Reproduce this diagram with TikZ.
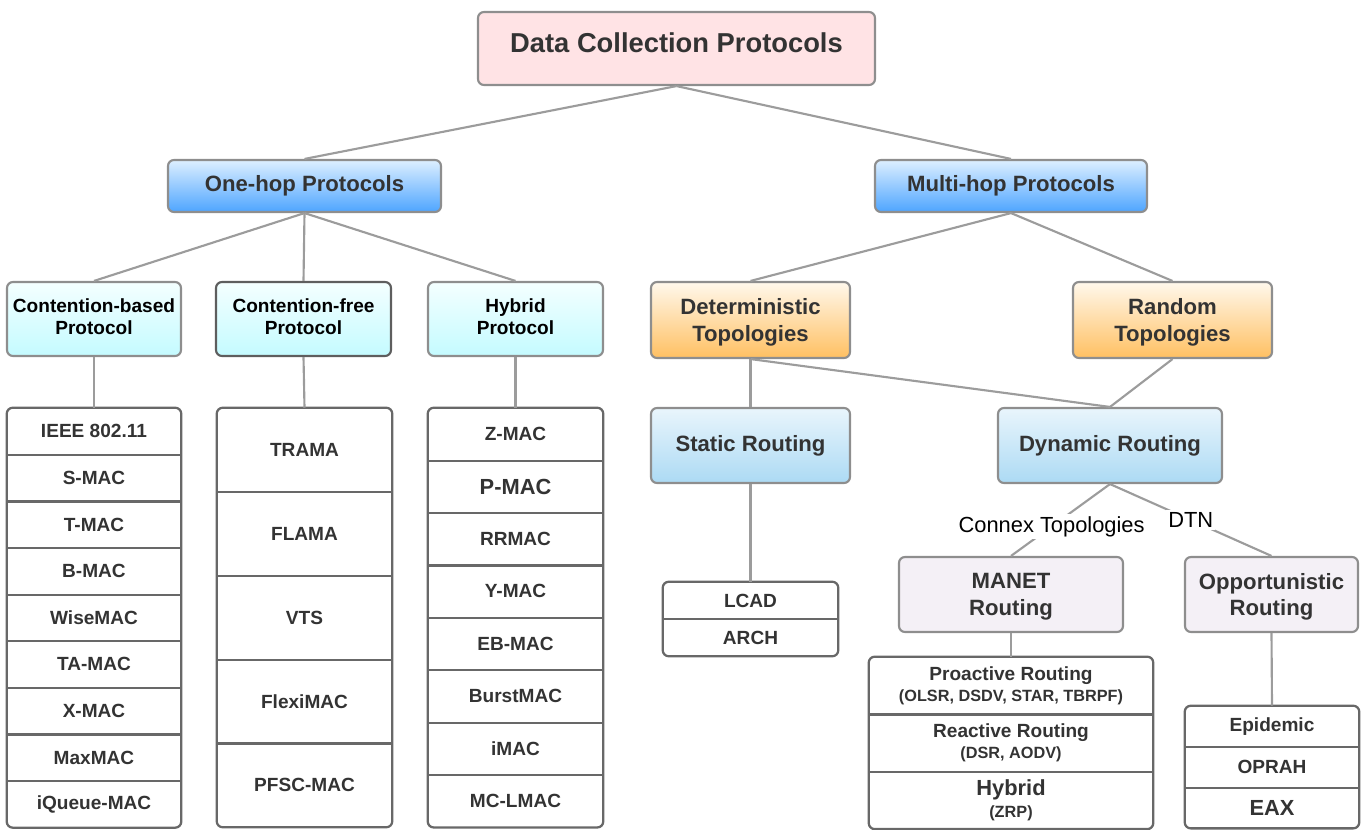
\documentclass[tikz,border=0pt]{standalone}
\usepackage{fontspec}
\setmainfont{Liberation Sans}
\definecolor{pinkfill}{HTML}{FFE3E5}
\definecolor{blueT}{HTML}{DDEFFF}
\definecolor{blueB}{HTML}{4EA5FF}
\definecolor{cyanT}{HTML}{F4FFFF}
\definecolor{cyanB}{HTML}{C4FBFF}
\definecolor{orangeT}{HTML}{FFF8EC}
\definecolor{orangeB}{HTML}{FFC062}
\definecolor{skyT}{HTML}{E9F5FC}
\definecolor{skyB}{HTML}{ACDAF4}
\definecolor{lavfill}{HTML}{F4F0F6}
\definecolor{bordergray}{HTML}{8E8E8E}
\definecolor{darkborder}{HTML}{5E5E5E}
\definecolor{listgray}{HTML}{686868}
\definecolor{linegray}{HTML}{9C9C9C}
\definecolor{textdark}{HTML}{333333}
\newcommand\fsTop{\fontsize{20.5}{24}\selectfont}
\newcommand\fsHdr{\fontsize{16.6}{20}\selectfont}
\newcommand\fsSub{\fontsize{14.3}{17.2}\selectfont}
\newcommand\fsBig{\fontsize{16.4}{19}\selectfont}
\newcommand\fsSmall{\fontsize{12.2}{15}\selectfont}
\tikzset{
  px/.style 2 args={minimum width=#1*0.75pt, minimum height=#2*0.75pt},
  base/.style={rounded corners=4.5pt, draw=bordergray, line width=1.6pt, inner sep=0pt,
    align=center, text=textdark, font=\bfseries\fsHdr},
  topbox/.style={base, fill=pinkfill, font=\bfseries\fsTop},
  bluebox/.style={base, top color=blueT, bottom color=blueB},
  cyanbox/.style={base, top color=cyanT, bottom color=cyanB, text=black, font=\bfseries\fsSub, text depth=3.6pt},
  orangebox/.style={base, top color=orangeT, bottom color=orangeB, text depth=-3.5pt},
  skybox/.style={base, top color=skyT, bottom color=skyB},
  lavbox/.style={base, fill=lavfill, text depth=-3.5pt},
  row/.style={inner sep=0pt, align=center, text=textdark, font=\bfseries\fsSub},
  listframe/.style={draw=listgray, line width=1.7pt, rounded corners=4.5pt},
  sep/.style={draw=listgray, line width=1.7pt},
  conn/.style={draw=linegray, line width=1.6pt},
  lab/.style={fill=white, inner sep=1.5pt, text=black, font=\fsBig},
}
\begin{document}
\begin{tikzpicture}[x=0.75pt, y=-0.75pt]
\useasboundingbox (0,0) rectangle (1368,829);

% ---------- main boxes ----------
\node[topbox, px={397}{73}, text height=14.7pt, text depth=8.2pt] (dc) at (676.5,48.5) {Data Collection Protocols};
\node[bluebox, px={273}{52}] (one) at (304.5,186) {One-hop Protocols};
\node[bluebox, px={272}{52}] (multi) at (1011,186) {Multi-hop Protocols};

\node[cyanbox, px={174}{74}] (cb) at (94,319) {Contention-based\\Protocol};
\node[cyanbox, px={175}{74}, draw=darkborder] (cf) at (303.5,319) {Contention-free\\Protocol};
\node[cyanbox, px={175}{74}] (hy) at (515.5,319) {Hybrid\\Protocol};

\node[orangebox, px={199}{76}] (det) at (750.5,320) {Deterministic\\Topologies};
\node[orangebox, px={199}{76}] (rand) at (1172.5,320) {Random\\Topologies};
\node[skybox, px={199}{75}] (static) at (750.5,445.5) {Static Routing};
\node[skybox, px={224}{75}] (dyn) at (1110,445.5) {Dynamic Routing};
\node[lavbox, px={224}{75}] (manet) at (1011,594.5) {MANET\\Routing};
\node[lavbox, px={173}{75}] (opp) at (1271.5,594.5) {Opportunistic\\Routing};

% ---------- lists ----------
\foreach \t [count=\i] in {IEEE 802.11, S-MAC, T-MAC, B-MAC, WiseMAC, TA-MAC, X-MAC, MaxMAC, iQueue-MAC}
  \node[row, px={174}{46.6}] (cb\i) at (94,{408+46.6*(\i-0.5)}) {\t};
\foreach \t [count=\i] in {TRAMA, FLAMA, VTS, FlexiMAC, PFSC-MAC}
  \node[row, px={175}{83.8}] (cf\i) at (304.5,{408+83.8*(\i-0.5)}) {\t};
\foreach \t [count=\i] in {Z-MAC, {\fsBig P-MAC}, RRMAC, Y-MAC, EB-MAC, BurstMAC, iMAC, MC-LMAC}
  \node[row, px={175}{52.4}] (hy\i) at (515.5,{408+52.4*(\i-0.5)}) {\t};
\foreach \t [count=\i] in {LCAD, ARCH}
  \node[row, px={175}{37}] (st\i) at (750.5,{582+37*(\i-0.5)}) {\t};
\node[row, px={284}{57.3}] (ma1) at (1011,685.6) {Proactive Routing\\[-1pt]{\fsSmall (OLSR, DSDV, STAR, TBRPF)}};
\node[row, px={284}{57.3}] (ma2) at (1011,742.9) {Reactive Routing\\[-1pt]{\fsSmall (DSR, AODV)}};
\node[row, px={284}{57.3}] (ma3) at (1011,800.2) {{\fsBig Hybrid}\\[-1pt]{\fsSmall (ZRP)}};
\foreach \t [count=\i] in {Epidemic, OPRAH, {\fsBig EAX}}
  \node[row, px={174}{40.7}] (op\i) at (1272,{706+40.7*(\i-0.5)}) {\t};

% separators and frames
\foreach \i in {1,...,8} \draw[sep] (cb\i.south west) -- (cb\i.south east);
\draw[listframe] (cb1.north west) rectangle (cb9.south east);
\foreach \i in {1,...,4} \draw[sep] (cf\i.south west) -- (cf\i.south east);
\draw[listframe] (cf1.north west) rectangle (cf5.south east);
\foreach \i in {1,...,7} \draw[sep] (hy\i.south west) -- (hy\i.south east);
\draw[listframe] (hy1.north west) rectangle (hy8.south east);
\draw[sep] (st1.south west) -- (st1.south east);
\draw[listframe] (st1.north west) rectangle (st2.south east);
\foreach \i in {1,2} \draw[sep] (ma\i.south west) -- (ma\i.south east);
\draw[listframe] (ma1.north west) rectangle (ma3.south east);
\foreach \i in {1,2} \draw[sep] (op\i.south west) -- (op\i.south east);
\draw[listframe] (op1.north west) rectangle (op3.south east);

% ---------- connectors ----------
\draw[conn] (dc.south) -- (one.north);
\draw[conn] (dc.south) -- (multi.north);
\draw[conn] (one.south) -- (cb.north);
\draw[conn] (one.south) -- (cf.north);
\draw[conn] (one.south) -- (hy.north);
\draw[conn] (cb.south) -- (cb1.north);
\draw[conn] (cf.south) -- (cf1.north);
\draw[conn] (hy.south) -- (hy1.north);
\draw[conn] (multi.south) -- (det.north);
\draw[conn] (multi.south) -- (rand.north);
\draw[conn] (det.south) -- (static.north);
\draw[conn] (det.south) -- (dyn.north);
\draw[conn] (rand.south) -- (dyn.north);
\draw[conn] (static.south) -- (st1.north);
\draw[conn] (dyn.south) -- node[lab, pos=0.59] {Connex Topologies} (manet.north);
\draw[conn] (dyn.south) -- node[lab, pos=0.5] {DTN} (opp.north);
\draw[conn] (manet.south) -- (ma1.north);
\draw[conn] (opp.south) -- (op1.north);
\end{tikzpicture}
\end{document}
